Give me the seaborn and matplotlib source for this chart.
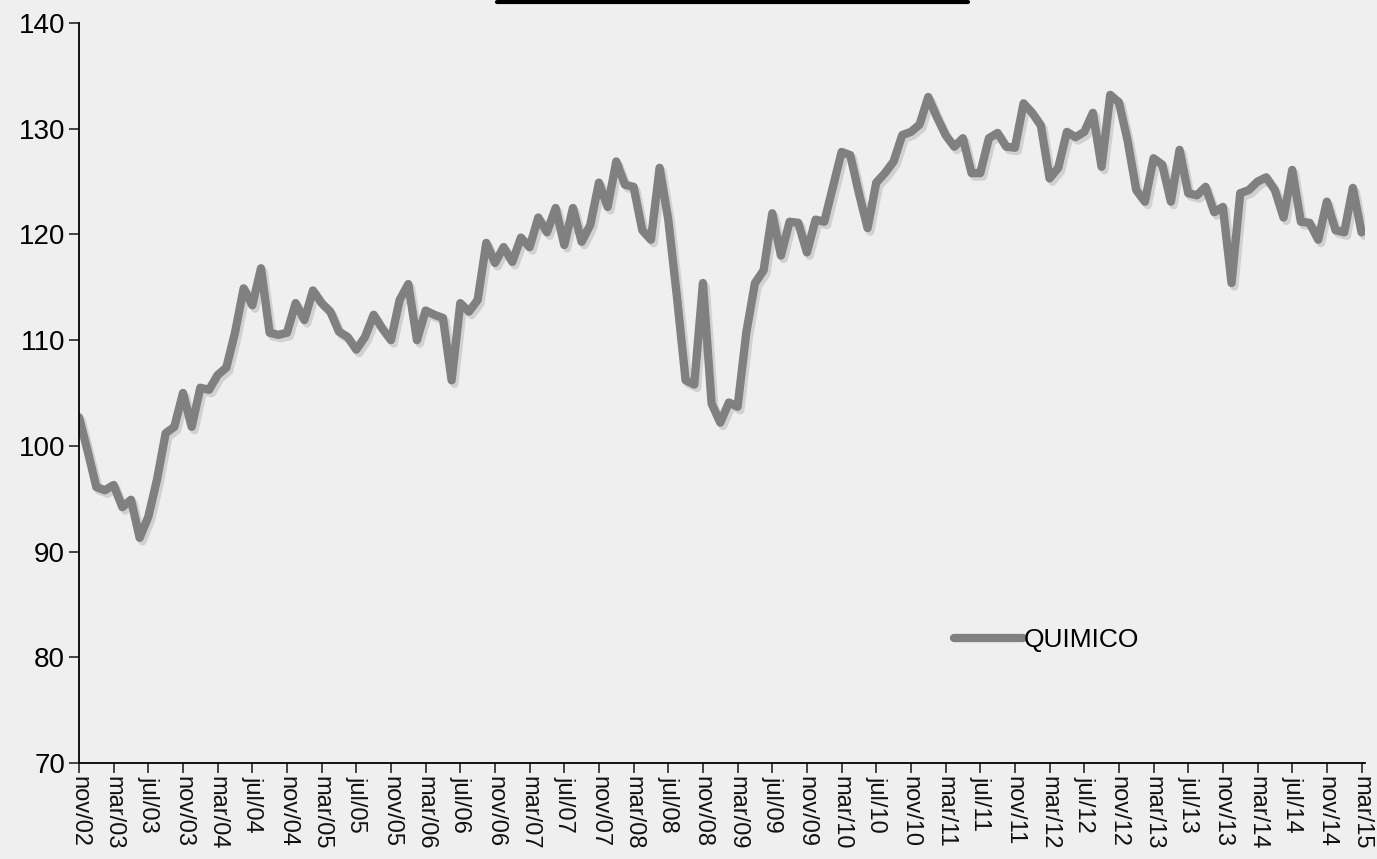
import numpy as np
import pandas as pd
import matplotlib
matplotlib.use('Agg')
import matplotlib.pyplot as plt
import matplotlib.patheffects as pe
from matplotlib.lines import Line2D
import seaborn as sns

# --- Datos (índice mensual nov/02 - mar/15) ---
SERIE = 'QUIMICO'

valores = [
    102.7, 99.5, 96.1, 95.8, 96.3, 94.2, 94.9, 91.3, 93.3, 96.8,
    101.2, 101.8, 105.0, 101.8, 105.5, 105.3, 106.7, 107.4, 110.7, 114.9,
    113.3, 116.8, 110.7, 110.5, 110.7, 113.5, 111.9, 114.7, 113.5, 112.7,
    110.8, 110.3, 109.1, 110.3, 112.4, 111.1, 110.0, 113.8, 115.3, 110.0,
    112.8, 112.4, 112.1, 106.2, 113.5, 112.7, 113.8, 119.2, 117.3, 118.8,
    117.4, 119.7, 118.8, 121.6, 120.2, 122.5, 119.0, 122.5, 119.3, 120.9,
    124.9, 122.6, 126.9, 124.7, 124.5, 120.4, 119.5, 126.3, 121.4, 114.1,
    106.2, 105.8, 115.4, 104.0, 102.2, 104.1, 103.7, 110.7, 115.4, 116.6,
    122.0, 118.0, 121.2, 121.1, 118.3, 121.4, 121.2, 124.5, 127.8, 127.5,
    123.9, 120.6, 124.9, 125.8, 126.9, 129.4, 129.7, 130.4, 133.0, 131.1,
    129.4, 128.3, 129.1, 125.8, 125.8, 129.1, 129.6, 128.3, 128.2, 132.4,
    131.5, 130.3, 125.3, 126.3, 129.7, 129.2, 129.7, 131.5, 126.4, 133.2,
    132.5, 128.9, 124.2, 123.1, 127.2, 126.6, 123.1, 128.0, 123.9, 123.7,
    124.5, 122.1, 122.6, 115.4, 123.9, 124.2, 125.0, 125.4, 124.2, 121.6,
    126.1, 121.2, 121.1, 119.5, 123.1, 120.4, 120.2, 124.4, 120.2,
]

etiquetas_x = [
    'nov/02', 'mar/03', 'jul/03', 'nov/03', 'mar/04', 'jul/04', 'nov/04',
    'mar/05', 'jul/05', 'nov/05', 'mar/06', 'jul/06', 'nov/06', 'mar/07',
    'jul/07', 'nov/07', 'mar/08', 'jul/08', 'nov/08', 'mar/09', 'jul/09',
    'nov/09', 'mar/10', 'jul/10', 'nov/10', 'mar/11', 'jul/11', 'nov/11',
    'mar/12', 'jul/12', 'nov/12', 'mar/13', 'jul/13', 'nov/13', 'mar/14',
    'jul/14', 'nov/14', 'mar/15',
]
paso_etiquetas = 4  # una etiqueta cada 4 meses

ticks_y = [70, 80, 90, 100, 110, 120, 130, 140]

df = pd.DataFrame({'mes': np.arange(len(valores)), 'valor': valores})

# --- Estilo ---
sns.set_style('ticks')
plt.rcParams['font.family'] = ['Liberation Sans', 'DejaVu Sans']

fig = plt.figure(figsize=(13.77, 8.59), dpi=100)
fig.patch.set_facecolor('#efefef')
ax = fig.add_axes([79 / 1377, 96 / 859, 1286 / 1377, 740 / 859])
ax.set_facecolor('#efefef')

sns.lineplot(data=df, x='mes', y='valor', ax=ax, color='#808080',
             linewidth=6, label=SERIE, solid_joinstyle='round',
             solid_capstyle='round')
ax.lines[0].set_path_effects([
    pe.SimpleLineShadow(offset=(2, -2.5), shadow_color='black', alpha=0.12),
    pe.Normal(),
])

ax.set_ylim(70, 140)
ax.set_yticks(ticks_y)
ax.set_xlim(0, len(valores) - 1 + 0.4)
ax.set_xticks(np.arange(0, len(valores), paso_etiquetas))
ax.set_xticklabels(etiquetas_x, rotation=-90, fontsize=17, color='#111111')
ax.tick_params(axis='y', labelsize=20, length=7, width=1.2, direction='out',
               pad=3, labelcolor='black')
ax.tick_params(axis='x', length=7, width=1.2, direction='out', pad=2)
ax.set_xlabel('')
ax.set_ylabel('')

sns.despine(ax=ax)
for s in ['left', 'bottom']:
    ax.spines[s].set_linewidth(1.3)
    ax.spines[s].set_color('black')

leg = ax.legend(loc='center left', bbox_to_anchor=(0.662, 0.166), frameon=False,
                fontsize=19, handlelength=2.6, handletextpad=0.05,
                labelcolor='black')
for h in leg.get_lines():
    h.set_linewidth(6)
    h.set_path_effects([])

# borde inferior del recuadro del título (cortado arriba)
fig.add_artist(Line2D([497 / 1377, 968 / 1377], [1 - 1.5 / 859, 1 - 1.5 / 859],
                      color='black', linewidth=3))

fig.savefig('out.png', dpi=100, facecolor=fig.get_facecolor())
